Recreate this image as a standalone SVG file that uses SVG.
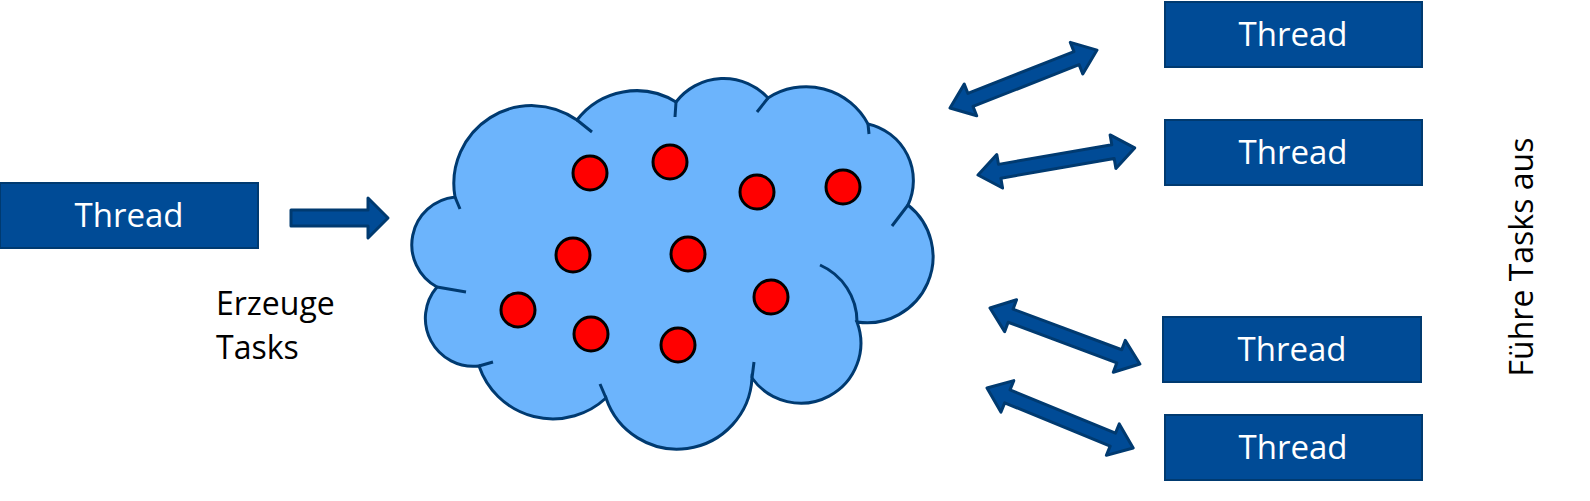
<svg xmlns="http://www.w3.org/2000/svg" width="1590" height="501" viewBox="0 0 1590 501">
<style>
.box{fill:#004b96;stroke:#003a70;stroke-width:2}
.bt{fill:#fff;font-family:"Open Sans",sans-serif;font-size:33px;text-anchor:middle}
.lab{fill:#000;font-family:"Open Sans",sans-serif;font-size:32px}
.arr{fill:#004b96;stroke:#003a70;stroke-width:3;stroke-linejoin:round}
.dot{fill:#f00;stroke:#000;stroke-width:3}
.ln{fill:none;stroke:#003a70;stroke-width:3}
</style>
<rect width="1590" height="501" fill="#fff"/>
<g id="cloud">
<path d="M437,287 A48,48 0 0 1 455,197 A78,78 0 0 1 577,120 A75,75 0 0 1 676,102 A60,60 0 0 1 768,98 A70,70 0 0 1 868,124 A58,58 0 0 1 908,205 A66,66 0 0 1 857,322 A60,60 0 0 1 752,378 A75,75 0 0 1 606,398 A78,78 0 0 1 479,366 A48,48 0 0 1 437,287 Z" fill="#6cb4fc" stroke="#003a70" stroke-width="3"/>
<path class="ln" d="M455,197 L460,209 M577,120 L592,132 M676,102 L675,117 M768,98 L757,112 M868,124 L869,134 M908,205 L892,226 M437,287 L466,292 M479,366 L493,362 M606,398 L600,384 M752,378 L754,362 M820,265 A62,62 0 0 1 857,322"/>
<circle class="dot" cx="590" cy="173" r="17"/>
<circle class="dot" cx="670" cy="162" r="17"/>
<circle class="dot" cx="757" cy="192" r="17"/>
<circle class="dot" cx="843" cy="187" r="17"/>
<circle class="dot" cx="573" cy="255" r="17"/>
<circle class="dot" cx="688" cy="254" r="17"/>
<circle class="dot" cx="518" cy="310" r="17"/>
<circle class="dot" cx="591" cy="334" r="17"/>
<circle class="dot" cx="678" cy="345" r="17"/>
<circle class="dot" cx="771" cy="297" r="17"/>
</g>
<g id="producer"><rect class="box" x="0" y="183" width="258" height="65"/><text class="bt" x="129" y="227">Thread</text></g>
<g id="w1"><rect class="box" x="1165" y="2" width="257" height="65"/><text class="bt" x="1293" y="46">Thread</text></g>
<g id="w2"><rect class="box" x="1165" y="120" width="257" height="65"/><text class="bt" x="1293" y="164">Thread</text></g>
<g id="w3"><rect class="box" x="1163" y="317" width="258" height="65"/><text class="bt" x="1292" y="361">Thread</text></g>
<g id="w4"><rect class="box" x="1165" y="415" width="257" height="65"/><text class="bt" x="1293" y="459">Thread</text></g>
<g id="labels">
<text class="lab" x="216" y="315">Erzeuge</text>
<text class="lab" x="216" y="359">Tasks</text>
<text class="lab" transform="translate(1533,257) rotate(-90)" text-anchor="middle" font-size="30">Führe Tasks aus</text>
</g>
<g id="connectors">
<polygon class="arr" points="291,210 368,210 368,198 388,218 368,238 368,226 291,226"/>
<polygon class="arr" transform="translate(950,108) rotate(-21.5)" points="0,0 22,-17 22,-7 136,-7 136,-17 158,0 136,17 136,7 22,7 22,17"/>
<polygon class="arr" transform="translate(978,175) rotate(-9.8)" points="0,0 22,-17 22,-7 137,-7 137,-17 159,0 137,17 137,7 22,7 22,17"/>
<polygon class="arr" transform="translate(990,308) rotate(20.5)" points="0,0 22,-17 22,-7 138,-7 138,-17 160,0 138,17 138,7 22,7 22,17"/>
<polygon class="arr" transform="translate(987,388) rotate(22.3)" points="0,0 22,-17 22,-7 136,-7 136,-17 158,0 136,17 136,7 22,7 22,17"/>
</g>
</svg>
